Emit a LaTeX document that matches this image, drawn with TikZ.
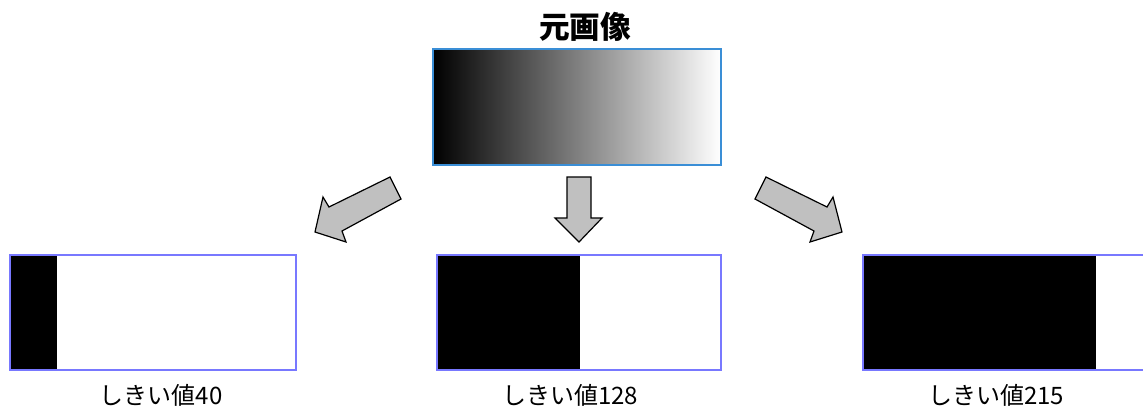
\documentclass[tikz,border=0pt]{standalone}
\usepackage{fontspec}
\newfontfamily\cjk{Noto Sans CJK JP}
\definecolor{origblue}{RGB}{58,142,214}
\definecolor{resblue}{RGB}{120,120,255}
\definecolor{arrowgray}{RGB}{192,192,192}
\begin{document}
\begin{tikzpicture}[x=0.75pt,y=-0.75pt,
  imgbox/.style={draw=resblue,line width=1.1pt,inner sep=0pt,outer sep=0pt,minimum height=86.25pt},
  lbl/.style={font=\cjk\fontsize{18}{21}\selectfont,inner sep=0pt},
  blockarrow/.style={fill=arrowgray,draw=black,line width=0.9pt,line join=miter}]
\clip (0,0) rectangle (1143,408);
\fill[white] (0,0) rectangle (1143,408);
% title and original image
\node[font=\cjk\bfseries\fontsize{23}{27}\selectfont,inner sep=0pt] (title) at (585,27) {元画像};
\node[draw=origblue,line width=0.9pt,inner sep=0pt,outer sep=0pt,minimum width=216pt,minimum height=87pt,
  left color=black,right color=white,shading=axis] (orig) at (577,107) {};
% results
\node[imgbox,minimum width=214.5pt,path picture={\fill[black] (path picture bounding box.south west) rectangle ++(35.25pt,86.25pt);}] (r1) at (153,312.5) {};
\node[imgbox,minimum width=213pt,path picture={\fill[black] (path picture bounding box.south west) rectangle ++(107.25pt,86.25pt);}] (r2) at (579,312.5) {};
\node[imgbox,minimum width=213.75pt,path picture={\fill[black] (path picture bounding box.south west) rectangle ++(174.75pt,86.25pt);}] (r3) at (1005.5,312.5) {};
% labels
\node[lbl] (l1) at (161,395) {しきい値40};
\node[lbl] (l2) at (570,395) {しきい値128};
\node[lbl] (l3) at (996,395) {しきい値215};
% block arrows
\draw[blockarrow] (315,232) -- (323,197) -- (329,207) -- (390,177) -- (401,199) -- (342,231) -- (346,242) -- cycle;
\draw[blockarrow] (567,177) -- (591,177) -- (591,218) -- (602,218) -- (579,242) -- (555,218) -- (567,218) -- cycle;
\draw[blockarrow] (842,232) -- (833,197) -- (827,207) -- (766,177) -- (755,199) -- (814,231) -- (810,242) -- cycle;
\end{tikzpicture}
\end{document}
